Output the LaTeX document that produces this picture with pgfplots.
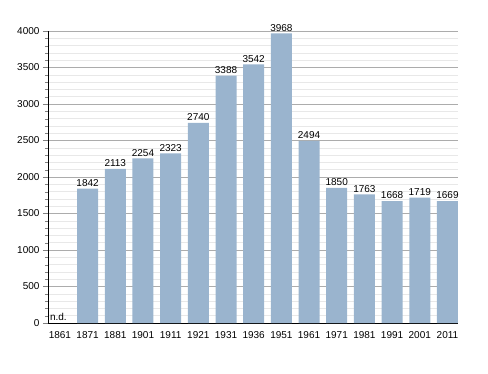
\documentclass[border=0pt]{standalone}
\usepackage{pgfplots}
\pgfplotsset{compat=1.18}
\usepackage{fontspec}
\setmainfont{Liberation Sans}
\definecolor{barc}{RGB}{154,180,206}
\begin{document}
\begin{tikzpicture}
\begin{axis}[
 scale only axis, width=410pt, height=292pt,
 xmin=-0.43, xmax=14.38, ymin=0, ymax=4000,
 axis x line*=bottom, axis y line*=left,
 xtick={0,...,14},
 xticklabels={1861,1871,1881,1901,1911,1921,1931,1936,1951,1961,1971,1981,1991,2001,2011},
 major x tick style={draw=none},
 ytick={0,500,...,4000}, minor y tick num=4,
 tick align=outside, major tick length=5pt, minor tick length=3pt,
 ymajorgrids, yminorgrids,
 major grid style={gray!65, line width=0.6pt},
 minor grid style={gray!18, line width=0.5pt},
 tick label style={font=\fontsize{10}{11}\selectfont},
 /pgf/number format/assume math mode=true, /pgf/number format/1000 sep={},
 axis line style={black, line width=0.8pt},
 clip=false,
]
\addplot[ybar, bar width=21pt, fill=barc, draw=none,
  nodes near coords, point meta=explicit symbolic,
  every node near coord/.style={font=\fontsize{10}{11}\selectfont, black, inner sep=2pt}]
 table[meta=label]{
x y label
1 1842 1842
2 2113 2113
3 2254 2254
4 2323 2323
5 2740 2740
6 3388 3388
7 3542 3542
8 3968 3968
9 2494 2494
10 1850 1850
11 1763 1763
12 1668 1668
13 1719 1719
14 1669 1669
};
\addplot[only marks, mark=none, nodes near coords, point meta=explicit symbolic,
  every node near coord/.style={font=\fontsize{10}{11}\selectfont, black, anchor=south, inner sep=2pt, xshift=-1.5pt}]
 table[meta=label]{
x y label
0 0 n.d.
};
\end{axis}
\path (current axis.south west) ++(-48pt,-50pt) rectangle ++(488pt,373pt);
\end{tikzpicture}
\end{document}
